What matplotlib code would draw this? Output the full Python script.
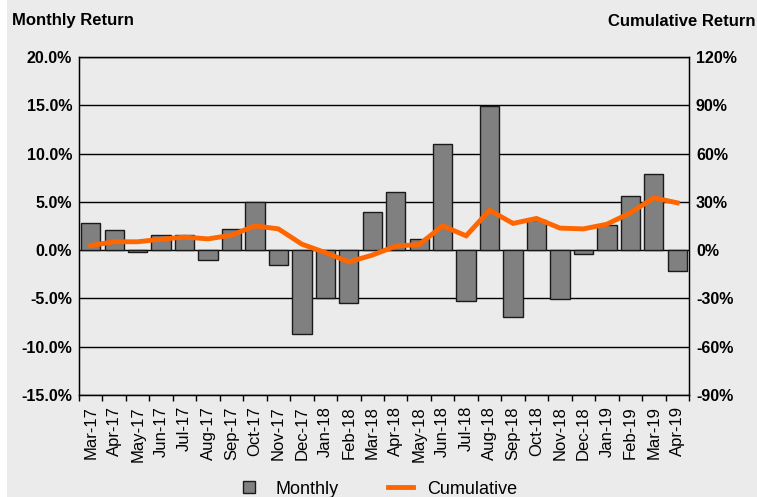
import numpy as np
import matplotlib.pyplot as plt
from matplotlib.patches import Rectangle
from matplotlib.lines import Line2D

plt.rcParams['font.family'] = ['Liberation Sans', 'DejaVu Sans']

months = ["Mar-17", "Apr-17", "May-17", "Jun-17", "Jul-17", "Aug-17", "Sep-17",
          "Oct-17", "Nov-17", "Dec-17", "Jan-18", "Feb-18", "Mar-18", "Apr-18",
          "May-18", "Jun-18", "Jul-18", "Aug-18", "Sep-18", "Oct-18", "Nov-18",
          "Dec-18", "Jan-19", "Feb-19", "Mar-19", "Apr-19"]
monthly = [2.8, 2.1, -0.2, 1.6, 1.6, -1.0, 2.2, 5.0, -1.5, -8.7, -5.0, -5.5, 3.9,
           6.0, 1.2, 11.0, -5.3, 14.9, -6.9, 3.1, -5.1, -0.4, 2.6, 5.6, 7.9, -2.2]
cumulative = [2.9, 5.2, 5.2, 6.8, 8.1, 7.0, 9.3, 15.1, 13.2, 3.7, -1.5, -7.3, -3.1,
              2.5, 3.5, 15.1, 8.9, 24.8, 16.6, 19.7, 13.7, 13.2, 16.1, 23.2, 32.5, 29.4]

left_ticks = [-15, -10, -5, 0, 5, 10, 15, 20]
left_labels = ["-15.0%", "-10.0%", "-5.0%", "0.0%", "5.0%", "10.0%", "15.0%", "20.0%"]
right_ticks = [-90, -60, -30, 0, 30, 60, 90, 120]
right_labels = ["-90%", "-60%", "-30%", "0%", "30%", "60%", "90%", "120%"]

bg = "#ebebeb"
fig = plt.figure(figsize=(7.57, 4.97), dpi=100, facecolor=bg)
fig.patches.append(Rectangle((0, 0), 7 / 757, 1, transform=fig.transFigure,
                             facecolor="white", edgecolor="none", zorder=0))
ax = fig.add_axes([79 / 757, 1 - 395 / 497, 610 / 757, 338 / 497])
ax.set_facecolor(bg)

x = np.arange(len(months))
ax.bar(x, monthly, width=0.82, color="#808080", edgecolor="#1a1a1a",
       linewidth=1, zorder=3)
ax.set_xlim(-0.5, len(months) - 0.5)
ax.set_ylim(-15, 20)
ax.set_yticks(left_ticks)
ax.set_yticklabels(left_labels, fontsize=11.5, fontweight="bold")
ax.tick_params(axis="y", length=0, pad=5)
for t in left_ticks:
    ax.axhline(t, color="black", linewidth=1, zorder=1)

ax.set_xticks(x)
ax.set_xticklabels(months, rotation=90, fontsize=12)
ax.tick_params(axis="x", which="major", length=0, pad=8)
ax.set_xticks(np.arange(-0.5, len(months)), minor=True)
ax.tick_params(axis="x", which="minor", length=4, width=1, color="black")

for s in ax.spines.values():
    s.set_color("black")
    s.set_linewidth(1)

ax2 = ax.twinx()
ln, = ax2.plot(x, cumulative, color="#ff6600", linewidth=3.5, zorder=4,
               solid_joinstyle="miter")
ax2.set_ylim(-90, 120)
ax2.set_yticks(right_ticks)
ax2.set_yticklabels(right_labels, fontsize=11.5, fontweight="bold")
ax2.tick_params(axis="y", length=0, pad=5)

fig.text(12 / 757, 1 - 21 / 497, "Monthly Return", fontsize=12, fontweight="bold",
         ha="left", va="center")
fig.text(756 / 757, 1 - 21 / 497, "Cumulative Return", fontsize=12, fontweight="bold",
         ha="right", va="center")

sq = Line2D([], [], linestyle="none", marker="s", markersize=8,
            markerfacecolor="#808080", markeredgecolor="#1a1a1a", markeredgewidth=1)
fig.legend([sq, ln], ["Monthly", "Cumulative"], loc="center",
           bbox_to_anchor=(0.498, 0.016), ncol=2, frameon=False, fontsize=13,
           handlelength=1.4, columnspacing=2.7, handletextpad=0.8)

fig.savefig("out.png", dpi=100, facecolor=bg)
